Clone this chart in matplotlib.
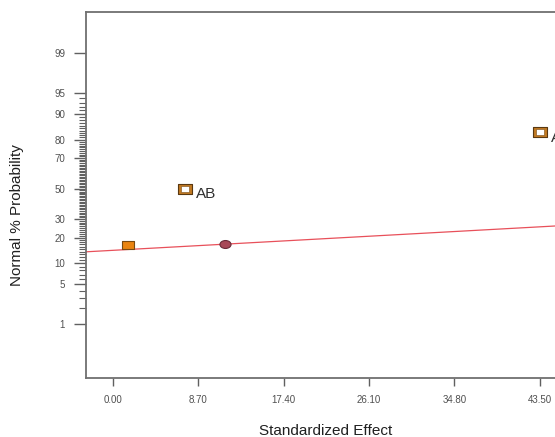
import numpy as np
import matplotlib
matplotlib.use("Agg")
import matplotlib.pyplot as plt
from matplotlib.path import Path
from statistics import NormalDist

plt.rcParams['font.family'] = ['Liberation Sans', 'DejaVu Sans']

# effects: standardized effect and normal % probability
labels = ['', 'AB', 'A']
effects = [1.5, 7.3, 43.5]
probs = [16.67, 50.0, 83.33]
# extra point (error estimate) on the line
err_x = [11.45]
err_p = [17.0]
# fitted normal line (mean, sd of the effects' normal)
line_mu = 114.3
line_sd = 107.9

xticks = [0.0, 8.7, 17.4, 26.1, 34.8, 43.5]
yticks = [1, 5, 10, 20, 30, 50, 70, 80, 90, 95, 99]
yminor = [p for p in range(2, 95) if p not in yticks]

nd = NormalDist()


def fwd(p):
    p = np.clip(np.asarray(p, dtype=float), 1e-6, 100 - 1e-6)
    return np.vectorize(lambda v: nd.inv_cdf(v / 100.0))(p)


def inv(z):
    return np.vectorize(lambda v: nd.cdf(v) * 100.0)(np.asarray(z, dtype=float))


fig = plt.figure(figsize=(5.55, 4.37), dpi=100)
ax = fig.add_axes([86 / 555, 1 - 378 / 437, (584 - 86) / 555, (378 - 12) / 437])
ax.set_yscale('function', functions=(fwd, inv))
ax.set_xlim(-2.75, 48)
ax.set_ylim(inv(-3.25), inv(3.03))

# fitted line
xs = np.linspace(-2.75, 48, 50)
ax.plot(xs, inv((xs - line_mu) / line_sd), color='#e8505a', lw=0.9, zorder=2)

# rect markers
rect = Path([(-1.3, -1), (1.3, -1), (1.3, 1), (-1.3, 1), (-1.3, -1)],
            [Path.MOVETO, Path.LINETO, Path.LINETO, Path.LINETO, Path.CLOSEPOLY])
ell = Path.unit_circle().transformed(matplotlib.transforms.Affine2D().scale(1.4, 1.0))

ax.plot(effects[0], probs[0], marker=rect, ms=8, mfc='#ea8410', mec='#7a4a10',
        mew=0.8, ls='none', zorder=3)
ax.plot(effects[1:], probs[1:], marker=rect, ms=10, mfc='#c27a22', mec='#5a3810',
        mew=0.8, ls='none', zorder=3)
ax.plot(effects[1:], probs[1:], marker=rect, ms=5.5, mfc='white', mec='#7a4a10',
        mew=0.4, ls='none', zorder=4)
ax.plot(err_x, err_p, marker=ell, ms=8, mfc='#a84858', mec='#6a2a38', mew=0.8,
        ls='none', zorder=3)

for x, p, t in zip(effects, probs, labels):
    if t:
        ax.annotate(t, (x, p), xytext=(8, -4), textcoords='offset points',
                    fontsize=11, color='#303030', va='center', ha='left')

ax.set_xticks(xticks)
ax.set_xticklabels(['%.2f' % v for v in xticks])
ax.set_yticks(yticks)
ax.set_yticklabels([str(v) for v in yticks])
ax.set_yticks(yminor, minor=True)
ax.tick_params(axis='x', length=6, width=1, color='#606060', labelsize=7,
               labelcolor='#505050', pad=6)
ax.tick_params(axis='y', which='major', length=9, width=1, color='#606060',
               labelsize=7, labelcolor='#505050', pad=6)
ax.tick_params(axis='y', which='minor', length=5, width=0.8, color='#606060')
for s in ax.spines.values():
    s.set_color('#707070')
    s.set_linewidth(1.3)

fig.text(326 / 555, 1 - 431 / 437, 'Standardized Effect', ha='center',
         va='center', fontsize=11, color='#202020')
fig.text(17 / 555, 1 - 215 / 437, 'Normal % Probability', rotation=90, ha='center',
         va='center', fontsize=11, color='#202020')

fig.savefig('out.png', dpi=100)
